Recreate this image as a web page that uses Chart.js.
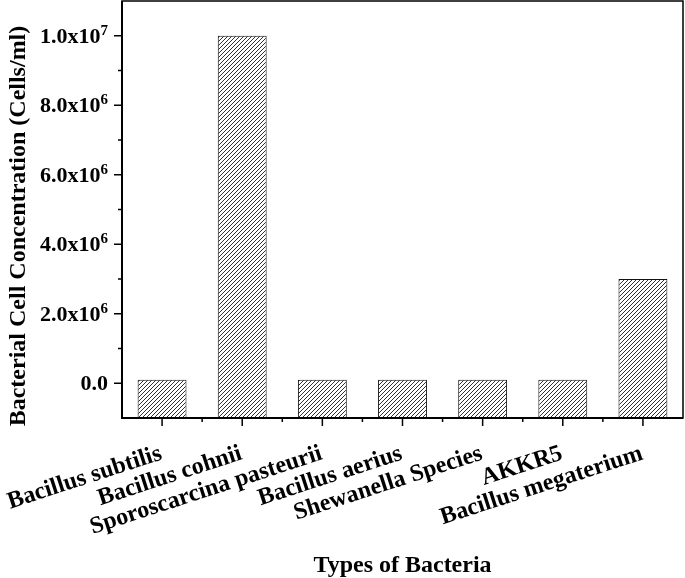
<!DOCTYPE html>
<html>
<head>
<meta charset="utf-8">
<script src="https://cdn.jsdelivr.net/npm/chart.js@4"></script>
<style>body{margin:0;background:#fff}</style>
</head>
<body>
<canvas id="chart" width="685" height="578"></canvas>
<script>
const categories = ['Bacillus subtilis', 'Bacillus cohnii', 'Sporoscarcina pasteurii', 'Bacillus aerius', 'Shewanella Species', 'AKKR5', 'Bacillus megaterium'];
const concentrations = [1e5, 1e7, 1e5, 1e5, 1e5, 1e5, 3e6];
const yTickValues = [0, 2e6, 4e6, 6e6, 8e6, 1e7];
const yTickLabels = ['0.0', '2.0x10', '4.0x10', '6.0x10', '8.0x10', '1.0x10'];
const yTickExponents = ['', '6', '6', '6', '6', '7'];
const yMin = -1e6;
const yMax = 1.1e7;
const xTitle = 'Types of Bacteria';
const yTitle = 'Bacterial Cell Concentration (Cells/ml)';

const SERIF = '"Liberation Serif", "Times New Roman", serif';

function hatch() {
  const c = document.createElement('canvas');
  c.width = 4; c.height = 4;
  const g = c.getContext('2d');
  g.fillStyle = '#fff';
  g.fillRect(0, 0, 4, 4);
  g.strokeStyle = '#333';
  g.lineWidth = 1;
  g.beginPath();
  g.moveTo(0, 4); g.lineTo(4, 0);
  g.moveTo(-1, 1); g.lineTo(1, -1);
  g.moveTo(3, 5); g.lineTo(5, 3);
  g.stroke();
  return g.createPattern(c, 'repeat');
}

// axes frame, tick marks and all texts (superscripts, rotated names)
const axisDecor = {
  id: 'axisDecor',
  afterDraw(chart) {
    const { ctx, chartArea: a, scales: { x, y } } = chart;
    ctx.save();
    ctx.strokeStyle = '#000';
    ctx.fillStyle = '#000';

    ctx.lineWidth = 1.5;
    ctx.strokeRect(a.left, a.top, a.right - a.left, a.bottom - a.top);
    ctx.lineWidth = 2;
    ctx.beginPath();
    ctx.moveTo(a.left, a.top);
    ctx.lineTo(a.left, a.bottom);
    ctx.lineTo(a.right, a.bottom);
    ctx.stroke();

    // y ticks
    ctx.lineWidth = 1.5;
    ctx.beginPath();
    y.ticks.forEach(t => {
      if (t.value <= yMin || t.value >= yMax) return;
      const py = y.getPixelForValue(t.value);
      const len = yTickValues.includes(t.value) ? 8 : 4;
      ctx.moveTo(a.left - len, py);
      ctx.lineTo(a.left, py);
    });
    // x ticks
    categories.forEach((c, i) => {
      const px = x.getPixelForValue(i);
      ctx.moveTo(px, a.bottom);
      ctx.lineTo(px, a.bottom + 8);
      if (i < categories.length - 1) {
        const mx = (px + x.getPixelForValue(i + 1)) / 2;
        ctx.moveTo(mx, a.bottom);
        ctx.lineTo(mx, a.bottom + 4);
      }
    });
    ctx.stroke();

    // y tick labels with superscript exponents
    ctx.textBaseline = 'alphabetic';
    ctx.textAlign = 'left';
    yTickValues.forEach((v, i) => {
      const py = y.getPixelForValue(v);
      ctx.font = 'bold 15px ' + SERIF;
      const we = ctx.measureText(yTickExponents[i]).width;
      ctx.font = 'bold 22px ' + SERIF;
      const wm = ctx.measureText(yTickLabels[i]).width;
      const right = a.left - 14;
      ctx.fillText(yTickLabels[i], right - we - wm, py + 7);
      if (yTickExponents[i]) {
        ctx.font = 'bold 15px ' + SERIF;
        ctx.fillText(yTickExponents[i], right - we, py - 1);
      }
    });

    // x tick labels, rotated
    ctx.font = 'bold 24px ' + SERIF;
    ctx.textAlign = 'right';
    categories.forEach((c, i) => {
      const px = x.getPixelForValue(i);
      ctx.save();
      ctx.translate(px + 1, a.bottom + 41);
      ctx.rotate(-18 * Math.PI / 180);
      ctx.fillText(c, 0, 0);
      ctx.restore();
    });

    // axis titles
    ctx.textAlign = 'center';
    ctx.fillText(xTitle, (a.left + a.right) / 2, 572);
    ctx.save();
    ctx.translate(25, 226);
    ctx.rotate(-Math.PI / 2);
    ctx.fillText(yTitle, 0, 0);
    ctx.restore();

    ctx.restore();
  }
};

new Chart(document.getElementById('chart'), {
  type: 'bar',
  data: {
    labels: categories,
    datasets: [{
      data: concentrations,
      base: yMin,
      backgroundColor: hatch(),
      borderColor: '#111',
      borderWidth: 1,
      barPercentage: 0.61,
      categoryPercentage: 1
    }]
  },
  options: {
    responsive: false,
    animation: false,
    devicePixelRatio: 1,
    layout: { padding: { top: 1, right: 2, left: 0, bottom: 0 } },
    plugins: { legend: { display: false }, tooltip: { enabled: false } },
    scales: {
      x: {
        grid: { display: false },
        border: { display: false },
        ticks: { display: false },
        afterFit(scale) { scale.height = 160; }
      },
      y: {
        min: yMin,
        max: yMax,
        grid: { display: false },
        border: { display: false },
        ticks: { display: false, stepSize: 1e6 },
        afterFit(scale) { scale.width = 122; }
      }
    }
  },
  plugins: [axisDecor]
});
</script>
</body>
</html>
